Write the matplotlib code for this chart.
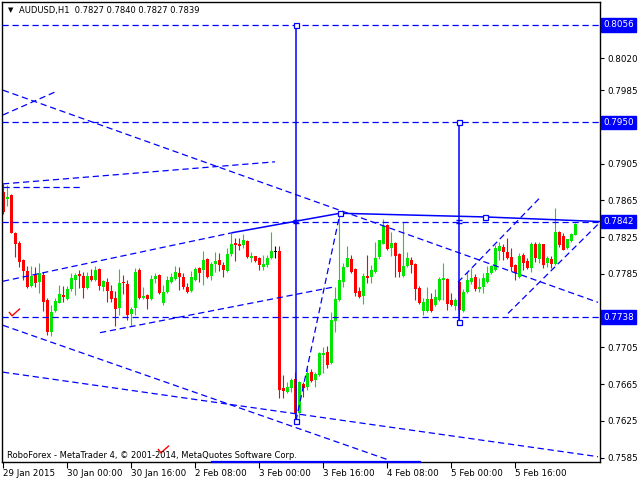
import matplotlib
matplotlib.use('Agg')
import matplotlib.pyplot as plt
from matplotlib.path import Path
import numpy as np

# hourly AUDUSD candles, bar 0 = 29 Jan 2015 08:00
opens = [0.7874, 0.7867, 0.7871, 0.7830, 0.7819, 0.7800, 0.7788, 0.7772, 0.7784, 0.7776,
         0.7784, 0.7757, 0.7722, 0.7745, 0.7753, 0.7762, 0.7758, 0.7768, 0.7778, 0.7785,
         0.7783, 0.7770, 0.7783, 0.7778, 0.7790, 0.7771, 0.7776, 0.7766, 0.7759, 0.7748,
         0.7776, 0.7774, 0.7741, 0.7748, 0.7789, 0.7759, 0.7762, 0.7758, 0.7779, 0.7784,
         0.7753, 0.7765, 0.7776, 0.7779, 0.7786, 0.7782, 0.7771, 0.7766, 0.7778, 0.7791,
         0.7789, 0.7801, 0.7783, 0.7796, 0.7800, 0.7795, 0.7788, 0.7807, 0.7819, 0.7818,
         0.7816, 0.7821, 0.7802, 0.7804, 0.7802, 0.7793, 0.7795, 0.7802, 0.7809, 0.7810,
         0.7661, 0.7656, 0.7661, 0.7671, 0.7634, 0.7665, 0.7662, 0.7678, 0.7669, 0.7675,
         0.7697, 0.7700, 0.7688, 0.7734, 0.7757, 0.7776, 0.7793, 0.7801, 0.7790, 0.7766,
         0.7761, 0.7783, 0.7782, 0.7787, 0.7803, 0.7818, 0.7838, 0.7813, 0.7819, 0.7807,
         0.7783, 0.7794, 0.7800, 0.7796, 0.7770, 0.7745, 0.7745, 0.7758, 0.7751, 0.7757,
         0.7778, 0.7779, 0.7757, 0.7750, 0.7776, 0.7745, 0.7765, 0.7776, 0.7782, 0.7769,
         0.7771, 0.7776, 0.7786, 0.7789, 0.7810, 0.7814, 0.7809, 0.7803, 0.7795, 0.7782,
         0.7806, 0.7799, 0.7791, 0.7818, 0.7801, 0.7817, 0.7797, 0.7801, 0.7796, 0.7831,
         0.7826, 0.7813, 0.7821, 0.7827]
highs = [0.7883, 0.7882, 0.7872, 0.7831, 0.7821, 0.7801, 0.7794, 0.7794, 0.7793, 0.7797,
         0.7787, 0.7759, 0.7751, 0.7759, 0.7773, 0.7772, 0.7772, 0.7786, 0.7786, 0.7789,
         0.7787, 0.7787, 0.7790, 0.7794, 0.7791, 0.7778, 0.7781, 0.7773, 0.7766, 0.7790,
         0.7784, 0.7778, 0.7749, 0.7791, 0.7791, 0.7771, 0.7763, 0.7784, 0.7786, 0.7785,
         0.7773, 0.7783, 0.7786, 0.7794, 0.7793, 0.7786, 0.7775, 0.7788, 0.7793, 0.7793,
         0.7810, 0.7802, 0.7798, 0.7809, 0.7808, 0.7798, 0.7813, 0.7830, 0.7824, 0.7824,
         0.7828, 0.7822, 0.7809, 0.7805, 0.7803, 0.7806, 0.7806, 0.7831, 0.7815, 0.7815,
         0.7675, 0.7667, 0.7672, 0.7678, 0.7668, 0.7667, 0.7684, 0.7681, 0.7678, 0.7700,
         0.7705, 0.7707, 0.7743, 0.7771, 0.7851, 0.7797, 0.7815, 0.7806, 0.7791, 0.7771,
         0.7786, 0.7806, 0.7795, 0.7820, 0.7822, 0.7845, 0.7839, 0.7831, 0.7820, 0.7808,
         0.7842, 0.7809, 0.7803, 0.7797, 0.7772, 0.7759, 0.7771, 0.7764, 0.7768, 0.7782,
         0.7797, 0.7780, 0.7764, 0.7759, 0.7777, 0.7768, 0.7787, 0.7791, 0.7785, 0.7780,
         0.7786, 0.7794, 0.7795, 0.7816, 0.7820, 0.7817, 0.7824, 0.7813, 0.7796, 0.7808,
         0.7808, 0.7802, 0.7820, 0.7820, 0.7820, 0.7818, 0.7805, 0.7805, 0.7857, 0.7832,
         0.7829, 0.7816, 0.7829, 0.7840]
lows = [0.7850, 0.7859, 0.7829, 0.7803, 0.7793, 0.7778, 0.7770, 0.7771, 0.7771, 0.7764,
        0.7745, 0.7719, 0.7717, 0.7744, 0.7753, 0.7754, 0.7757, 0.7766, 0.7762, 0.7770,
        0.7759, 0.7769, 0.7777, 0.7777, 0.7767, 0.7766, 0.7754, 0.7754, 0.7728, 0.7740,
        0.7763, 0.7735, 0.7728, 0.7740, 0.7758, 0.7758, 0.7747, 0.7757, 0.7775, 0.7763,
        0.7751, 0.7764, 0.7775, 0.7778, 0.7767, 0.7769, 0.7764, 0.7765, 0.7777, 0.7776,
        0.7773, 0.7781, 0.7778, 0.7787, 0.7788, 0.7782, 0.7787, 0.7805, 0.7799, 0.7811,
        0.7813, 0.7802, 0.7798, 0.7798, 0.7789, 0.7789, 0.7793, 0.7801, 0.7802, 0.7650,
        0.7650, 0.7655, 0.7656, 0.7627, 0.7628, 0.7651, 0.7659, 0.7667, 0.7662, 0.7674,
        0.7677, 0.7683, 0.7687, 0.7722, 0.7756, 0.7771, 0.7792, 0.7786, 0.7761, 0.7759,
        0.7752, 0.7775, 0.7775, 0.7786, 0.7801, 0.7817, 0.7811, 0.7805, 0.7782, 0.7782,
        0.7782, 0.7793, 0.7786, 0.7757, 0.7752, 0.7740, 0.7744, 0.7744, 0.7750, 0.7756,
        0.7757, 0.7746, 0.7750, 0.7746, 0.7733, 0.7744, 0.7764, 0.7774, 0.7766, 0.7765,
        0.7764, 0.7775, 0.7785, 0.7788, 0.7800, 0.7800, 0.7801, 0.7788, 0.7778, 0.7781,
        0.7789, 0.7790, 0.7787, 0.7798, 0.7797, 0.7791, 0.7793, 0.7791, 0.7795, 0.7814,
        0.7811, 0.7812, 0.7820, 0.7827]
closes = [0.7852, 0.7869, 0.7830, 0.7818, 0.7798, 0.7788, 0.7771, 0.7783, 0.7775, 0.7786,
          0.7754, 0.7722, 0.7744, 0.7756, 0.7763, 0.7760, 0.7768, 0.7781, 0.7784, 0.7783,
          0.7770, 0.7783, 0.7778, 0.7789, 0.7772, 0.7777, 0.7766, 0.7758, 0.7747, 0.7775,
          0.7775, 0.7740, 0.7747, 0.7787, 0.7759, 0.7761, 0.7758, 0.7779, 0.7783, 0.7764,
          0.7765, 0.7778, 0.7782, 0.7787, 0.7782, 0.7771, 0.7765, 0.7782, 0.7790, 0.7786,
          0.7800, 0.7782, 0.7796, 0.7799, 0.7795, 0.7789, 0.7807, 0.7818, 0.7816, 0.7815,
          0.7822, 0.7803, 0.7804, 0.7799, 0.7795, 0.7796, 0.7802, 0.7810, 0.7809, 0.7659,
          0.7657, 0.7662, 0.7670, 0.7634, 0.7667, 0.7661, 0.7677, 0.7668, 0.7676, 0.7699,
          0.7699, 0.7686, 0.7735, 0.7758, 0.7778, 0.7793, 0.7802, 0.7787, 0.7764, 0.7760,
          0.7783, 0.7781, 0.7789, 0.7802, 0.7822, 0.7837, 0.7812, 0.7819, 0.7805, 0.7787,
          0.7794, 0.7802, 0.7795, 0.7769, 0.7753, 0.7754, 0.7758, 0.7745, 0.7760, 0.7779,
          0.7780, 0.7752, 0.7751, 0.7757, 0.7746, 0.7765, 0.7778, 0.7780, 0.7768, 0.7771,
          0.7780, 0.7786, 0.7794, 0.7813, 0.7815, 0.7809, 0.7802, 0.7792, 0.7786, 0.7804,
          0.7797, 0.7791, 0.7818, 0.7802, 0.7818, 0.7795, 0.7802, 0.7796, 0.7831, 0.7816,
          0.7811, 0.7823, 0.7828, 0.7839]

time_ticks = [0, 16, 32, 48, 64, 80, 96, 112, 128]
time_labels = ['29 Jan 2015', '30 Jan 00:00', '30 Jan 16:00', '2 Feb 08:00', '3 Feb 00:00',
               '3 Feb 16:00', '4 Feb 08:00', '5 Feb 00:00', '5 Feb 16:00']
price_ticks = [0.8060, 0.8020, 0.7985, 0.7945, 0.7905, 0.7865, 0.7825, 0.7785,
               0.7745, 0.7705, 0.7665, 0.7625, 0.7585]
hidden_ticks = [0.8060, 0.7945, 0.7745]   # covered by the level labels

# analyst objects: (bar, price) pairs
levels = [0.8056, 0.7950, 0.7842, 0.7738]
dashed_lines = [((0, 0.7985), (148.75, 0.7754)),
                ((0, 0.7958), (13, 0.7983)),
                ((0, 0.7883), (68, 0.7907)),
                ((0, 0.7880), (20, 0.7880)),
                ((0, 0.7777), (57.5, 0.7830)),
                ((24.25, 0.7721), (83, 0.7771)),
                ((73.25, 0.7625), (84.25, 0.7851)),
                ((0, 0.7729), (96, 0.7583)),
                ((0, 0.7678), (148.75, 0.7586)),
                ((113.75, 0.7776), (134.25, 0.7868)),
                ((126.25, 0.7742), (148.75, 0.7839))]
solid_bars = [57.5, 84.25, 120.5, 149.25]
solid_prices = [0.7830, 0.7851, 0.7847, 0.7842]
vertical_lines = [(73.25, 0.8056, 0.7625), (114, 0.7950, 0.7733)]
anchor_points = [(73.25, 0.8056), (73.25, 0.7625), (114, 0.7950), (114, 0.7733),
                 (84.25, 0.7851), (120.5, 0.7847)]
trade_marks = [(2.75, 0.7744), (40, 0.7594)]

blue = '#0000ff'
up_col = '#00e600'
down_col = '#ff0000'

fig = plt.figure(figsize=(6.4, 4.8), dpi=100)
ax = fig.add_axes([2 / 640, 18 / 480, 598 / 640, 460 / 480])
ax.set_xlim(-0.25, 149.25)
ax.set_ylim(0.75802, 0.80810)

idx = np.arange(len(opens))
o = np.array(opens)
c = np.array(closes)
cols = [up_col if cc > oo else down_col if cc < oo else 'black' for oo, cc in zip(o, c)]

ax.vlines(idx, lows, highs, colors=cols, lw=0.8, zorder=2)
ax.bar(idx, np.maximum(np.abs(c - o), 0.00008), bottom=np.minimum(o, c),
       width=0.75, color=cols, linewidth=0, zorder=2)

dash = (0, (5, 3))
for lv in levels:
    ax.axhline(lv, color=blue, lw=0.9, ls=dash, zorder=3)
for (x0, p0), (x1, p1) in dashed_lines:
    ax.plot([x0, x1], [p0, p1], color=blue, lw=0.9, ls=dash, zorder=3)
ax.plot(solid_bars, solid_prices, color=blue, lw=1.1, zorder=3)
for xv, p_top, p_bot in vertical_lines:
    ax.plot([xv, xv], [p_top, p_bot], color=blue, lw=1.1, zorder=3)
    ax.plot([xv, xv], [0.7844, 0.7840], ls='none', marker='_', ms=5, mew=1, color=blue, zorder=4)
ax.plot([p[0] for p in anchor_points], [p[1] for p in anchor_points], ls='none',
        marker='s', ms=3.6, mfc='white', mec=blue, mew=0.9, zorder=4)

# small red "closed order" ticks
check = Path([(-1, 0.1), (-0.45, -0.6), (1, 0.7)], [Path.MOVETO, Path.LINETO, Path.LINETO])
ax.plot([m[0] for m in trade_marks], [m[1] for m in trade_marks], ls='none',
        marker=check, ms=8, mfc='none', mec='red', mew=1, zorder=4)

# highlighted time range on the bottom axis
ax.plot([52.25, 104.25], [0.75802, 0.75802], color=blue, lw=1.6, clip_on=False, zorder=5)

for s in ax.spines.values():
    s.set_color('black')
    s.set_linewidth(1)

ax.yaxis.tick_right()
ax.set_yticks(price_ticks)
ax.set_yticklabels(['' if t in hidden_ticks else f'{t:.4f}' for t in price_ticks])
ax.tick_params(axis='y', length=3, width=0.8, pad=2, labelsize=6.3)
ax.set_xticks(time_ticks)
ax.set_xticklabels(time_labels, ha='left')
ax.tick_params(axis='x', length=4, width=0.8, pad=1, labelsize=6.3)

for lv in levels:
    ax.annotate(f'{lv:.4f}', xy=(1, lv), xycoords=ax.get_yaxis_transform(),
                xytext=(2.5, 0), textcoords='offset points', ha='left', va='center',
                color='white', fontsize=6.3, annotation_clip=False, zorder=10,
                bbox=dict(boxstyle='square,pad=0.25', fc=blue, ec=blue))

fig.text(8 / 640, 1 - 10 / 480, '\u25bc', fontsize=5, va='center', ha='left')
fig.text(19 / 640, 1 - 10 / 480, 'AUDUSD,H1  0.7827 0.7840 0.7827 0.7839',
         fontsize=6, va='center', ha='left')
fig.text(7 / 640, 1 - 455 / 480,
         'RoboForex - MetaTrader 4, \u00a9 2001-2014, MetaQuotes Software Corp.',
         fontsize=6, va='center', ha='left')

fig.savefig('out.png', dpi=100)
